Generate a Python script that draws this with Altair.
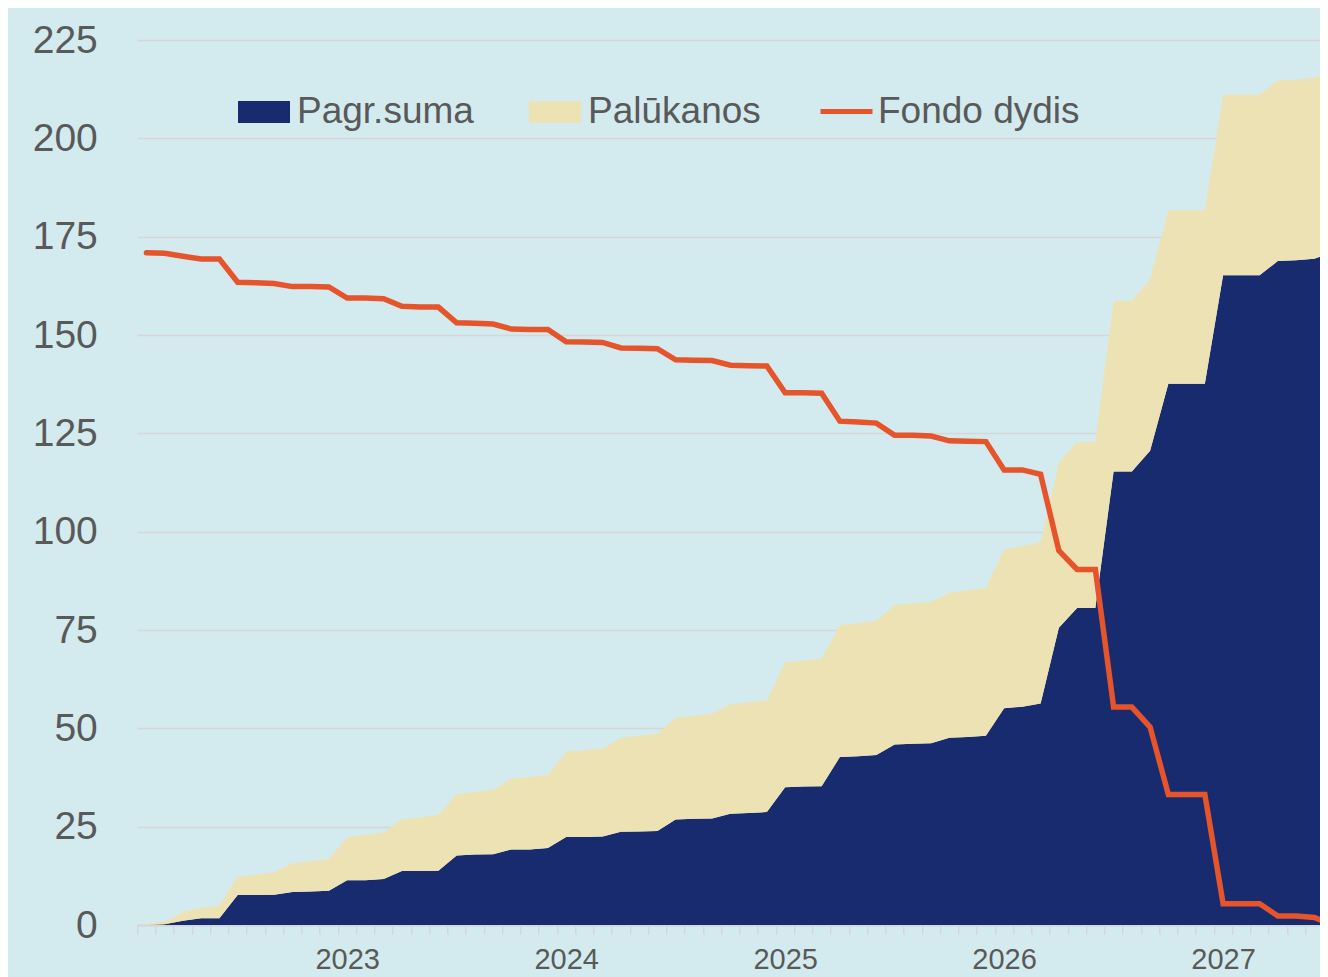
import altair as alt
import pandas as pd

# ---- data ----
month_index = list(range(66))
pagr_suma = [0.0, 0.2, 1.1, 1.7, 1.7, 7.6, 7.6, 7.7, 8.4, 8.5, 8.7,
             11.4, 11.4, 11.7, 13.7, 13.7, 13.8, 17.7, 17.9, 18.0, 19.2, 19.2, 19.6,
             22.4, 22.4, 22.5, 23.7, 23.8, 23.9, 26.8, 27.0, 27.1, 28.3, 28.5, 28.7,
             35.0, 35.2, 35.3, 42.7, 42.9, 43.2, 45.9, 46.1, 46.2, 47.6, 47.8, 48.1,
             55.1, 55.5, 56.3, 75.6, 80.6, 80.6, 115.3, 115.3, 120.6, 137.6, 137.6, 137.6,
             165.2, 165.2, 165.2, 168.8, 169.0, 169.4, 171.0]
palukanos = [0.3, 0.7, 2.2, 2.7, 3.3, 4.7, 5.2, 5.7, 7.3, 7.7, 8.1,
             11.0, 11.5, 11.8, 13.2, 13.6, 14.2, 15.6, 15.9, 16.3, 18.0, 18.4, 18.5,
             21.6, 22.0, 22.4, 23.9, 24.3, 24.7, 25.9, 26.2, 26.6, 27.8, 28.1, 28.4,
             31.8, 32.0, 32.4, 33.6, 33.9, 34.1, 35.5, 35.7, 36.0, 36.9, 37.3, 37.6,
             40.4, 40.8, 41.0, 42.0, 42.2, 42.2, 43.3, 43.5, 43.6, 44.1, 44.1, 44.1,
             45.9, 45.9, 45.9, 45.9, 45.9, 46.0, 46.1]
fondo_dydis = [170.9, 170.8, 170.0, 169.3, 169.3, 163.4, 163.3, 163.1, 162.3, 162.3, 162.2,
               159.4, 159.4, 159.2, 157.3, 157.1, 157.1, 153.1, 153.0, 152.8, 151.5, 151.4, 151.4,
               148.3, 148.2, 148.1, 146.7, 146.6, 146.5, 143.7, 143.6, 143.5, 142.3, 142.2, 142.1,
               135.3, 135.3, 135.2, 128.1, 127.9, 127.6, 124.5, 124.5, 124.3, 123.1, 123.0, 122.9,
               115.7, 115.7, 114.6, 95.2, 90.4, 90.4, 55.4, 55.4, 50.3, 33.2, 33.2, 33.2,
               5.4, 5.4, 5.4, 2.3, 2.3, 1.9, 0.0]
series_names = ["Pagr.suma", "Palūkanos", "Fondo dydis"]
year_labels = ["2023", "2024", "2025", "2026", "2027"]
year_first_month = [11, 23, 35, 47, 59]
y_ticks = [0, 25, 50, 75, 100, 125, 150, 175, 200, 225]

# ---- styling ----
NAVY = "#172B6E"
BEIGE = "#EDE2B3"
ORANGE = "#E5542B"
BG = "#D3EBEF"
GRID = "#D6D6D6"
TEXT = "#595959"
FONT = "Liberation Sans"

n = len(month_index)
area_df = pd.DataFrame({
    "m": month_index * 2,
    "series": [series_names[0]] * n + [series_names[1]] * n,
    "ord": [0] * n + [1] * n,
    "v": pagr_suma + palukanos,
})
line_df = pd.DataFrame({"m": month_index, "series": [series_names[2]] * n, "v": fondo_dydis})

PLOT_W = 1182.7
X_MAX = 64.31
half_step = PLOT_W / (X_MAX + 0.5) / 2

label_expr = ""
for lab, idx in zip(year_labels, year_first_month):
    label_expr += f"datum.value == {idx - 0.5} ? '{lab}' : "
label_expr += "''"

x_scale = alt.Scale(domain=[-0.5, X_MAX], nice=False, zero=False)
y_scale = alt.Scale(domain=[0, 225], nice=False, zero=True)

x_axis = alt.Axis(values=[k - 0.5 for k in range(67)], title=None, grid=False,
                  tickSize=9, tickColor=GRID, tickWidth=1.5,
                  domainColor=GRID, domainWidth=2,
                  labelExpr=label_expr, labelOffset=half_step, labelOverlap=False,
                  labelFlush=False, labelBound=False,
                  labelFont="Liberation Sans Narrow, Arial Narrow, Liberation Sans",
                  labelFontSize=29, labelColor=TEXT, labelPadding=11)
y_axis = alt.Axis(values=y_ticks, title=None, grid=True, gridColor=GRID, gridWidth=1.5,
                  domain=False, ticks=False, labelFlush=False,
                  labelFont=FONT, labelFontSize=39, labelColor=TEXT, labelPadding=40)

area = alt.Chart(area_df).mark_area(clip=True, interpolate="linear").encode(
    x=alt.X("m:Q", scale=x_scale, axis=x_axis),
    y=alt.Y("v:Q", stack="zero", scale=y_scale, axis=y_axis),
    fill=alt.Fill("series:N",
                  scale=alt.Scale(domain=series_names[:2], range=[NAVY, BEIGE]),
                  legend=alt.Legend(orient="none", legendX=100.7, legendY=46,
                                    direction="horizontal", columns=2, title=None,
                                    symbolType="M-1,-0.42H1V0.42H-1Z", symbolSize=2704,
                                    symbolStrokeWidth=0, labelFont=FONT, labelFontSize=37,
                                    labelColor=TEXT, labelOffset=7, columnPadding=55,
                                    labelLimit=500, padding=0)),
    order=alt.Order("ord:Q", sort="ascending"),
)

line = alt.Chart(line_df).mark_line(clip=True, strokeWidth=5.5, strokeCap="round").encode(
    x=alt.X("m:Q", scale=x_scale, axis=x_axis),
    y=alt.Y("v:Q", scale=y_scale, axis=y_axis),
    stroke=alt.Stroke("series:N",
                      scale=alt.Scale(domain=series_names[2:], range=[ORANGE]),
                      legend=alt.Legend(orient="none", legendX=680.7, legendY=43, title=None,
                                        symbolType="stroke", symbolSize=2704,
                                        symbolStrokeWidth=5, labelFont=FONT, labelFontSize=37,
                                        labelColor=TEXT, labelOffset=3, labelLimit=500,
                                        padding=0)),
)

chart = alt.layer(area, line).properties(
    width=PLOT_W, height=885,
    padding={"left": 129.3, "top": 32, "right": 0, "bottom": 52},
    autosize=alt.AutoSizeParams(type="none"),
    background=BG,
).configure_view(stroke=None)

chart.save("out.html", embed_options={"renderer": "svg", "actions": False})
